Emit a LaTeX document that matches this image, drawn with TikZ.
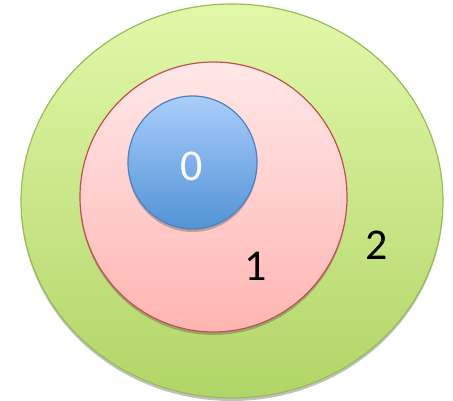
\documentclass[tikz,border=0pt]{standalone}
\usepackage{fontspec}
\setmainfont{Carlito}
\usetikzlibrary{shadows}
\definecolor{gline}{HTML}{9BBB59}
\definecolor{gtop}{HTML}{E2F8AA}
\definecolor{gbot}{HTML}{B1D567}
\definecolor{rline}{HTML}{C0504D}
\definecolor{rtop}{HTML}{FFE8E8}
\definecolor{rbot}{HTML}{FFB5B2}
\definecolor{bline}{HTML}{4F81BD}
\definecolor{btop}{HTML}{AACDFB}
\definecolor{bbot}{HTML}{5193D6}
\tikzset{
  ring/.style={line width=1.2pt, drop shadow={shadow xshift=0pt, shadow yshift=-3pt, opacity=0.35, fill=black!70}},
  digit/.style={font=\fontsize{44}{44}\selectfont, inner sep=0pt}
}
\begin{document}
\begin{tikzpicture}[x=1pt,y=-1pt]
  \useasboundingbox (0,0) rectangle (453,401);
  % outer ring
  \path[ring, draw=gline, top color=gtop, bottom color=gbot]
    (232,201) ellipse [x radius=211, y radius=197];
  % middle ring
  \path[ring, draw=rline, top color=rtop, bottom color=rbot]
    (213.5,197) ellipse [x radius=133.5, y radius=135];
  % inner ring
  \path[ring, draw=bline, top color=btop, bottom color=bbot]
    (192.5,162.5) ellipse [x radius=64.5, y radius=66.5];
  \node[digit, text=white] (l0) at (192,166) {0};
  \node[digit] (l1) at (256,266) {1};
  \node[digit] (l2) at (377,245) {2};
\end{tikzpicture}
\end{document}
